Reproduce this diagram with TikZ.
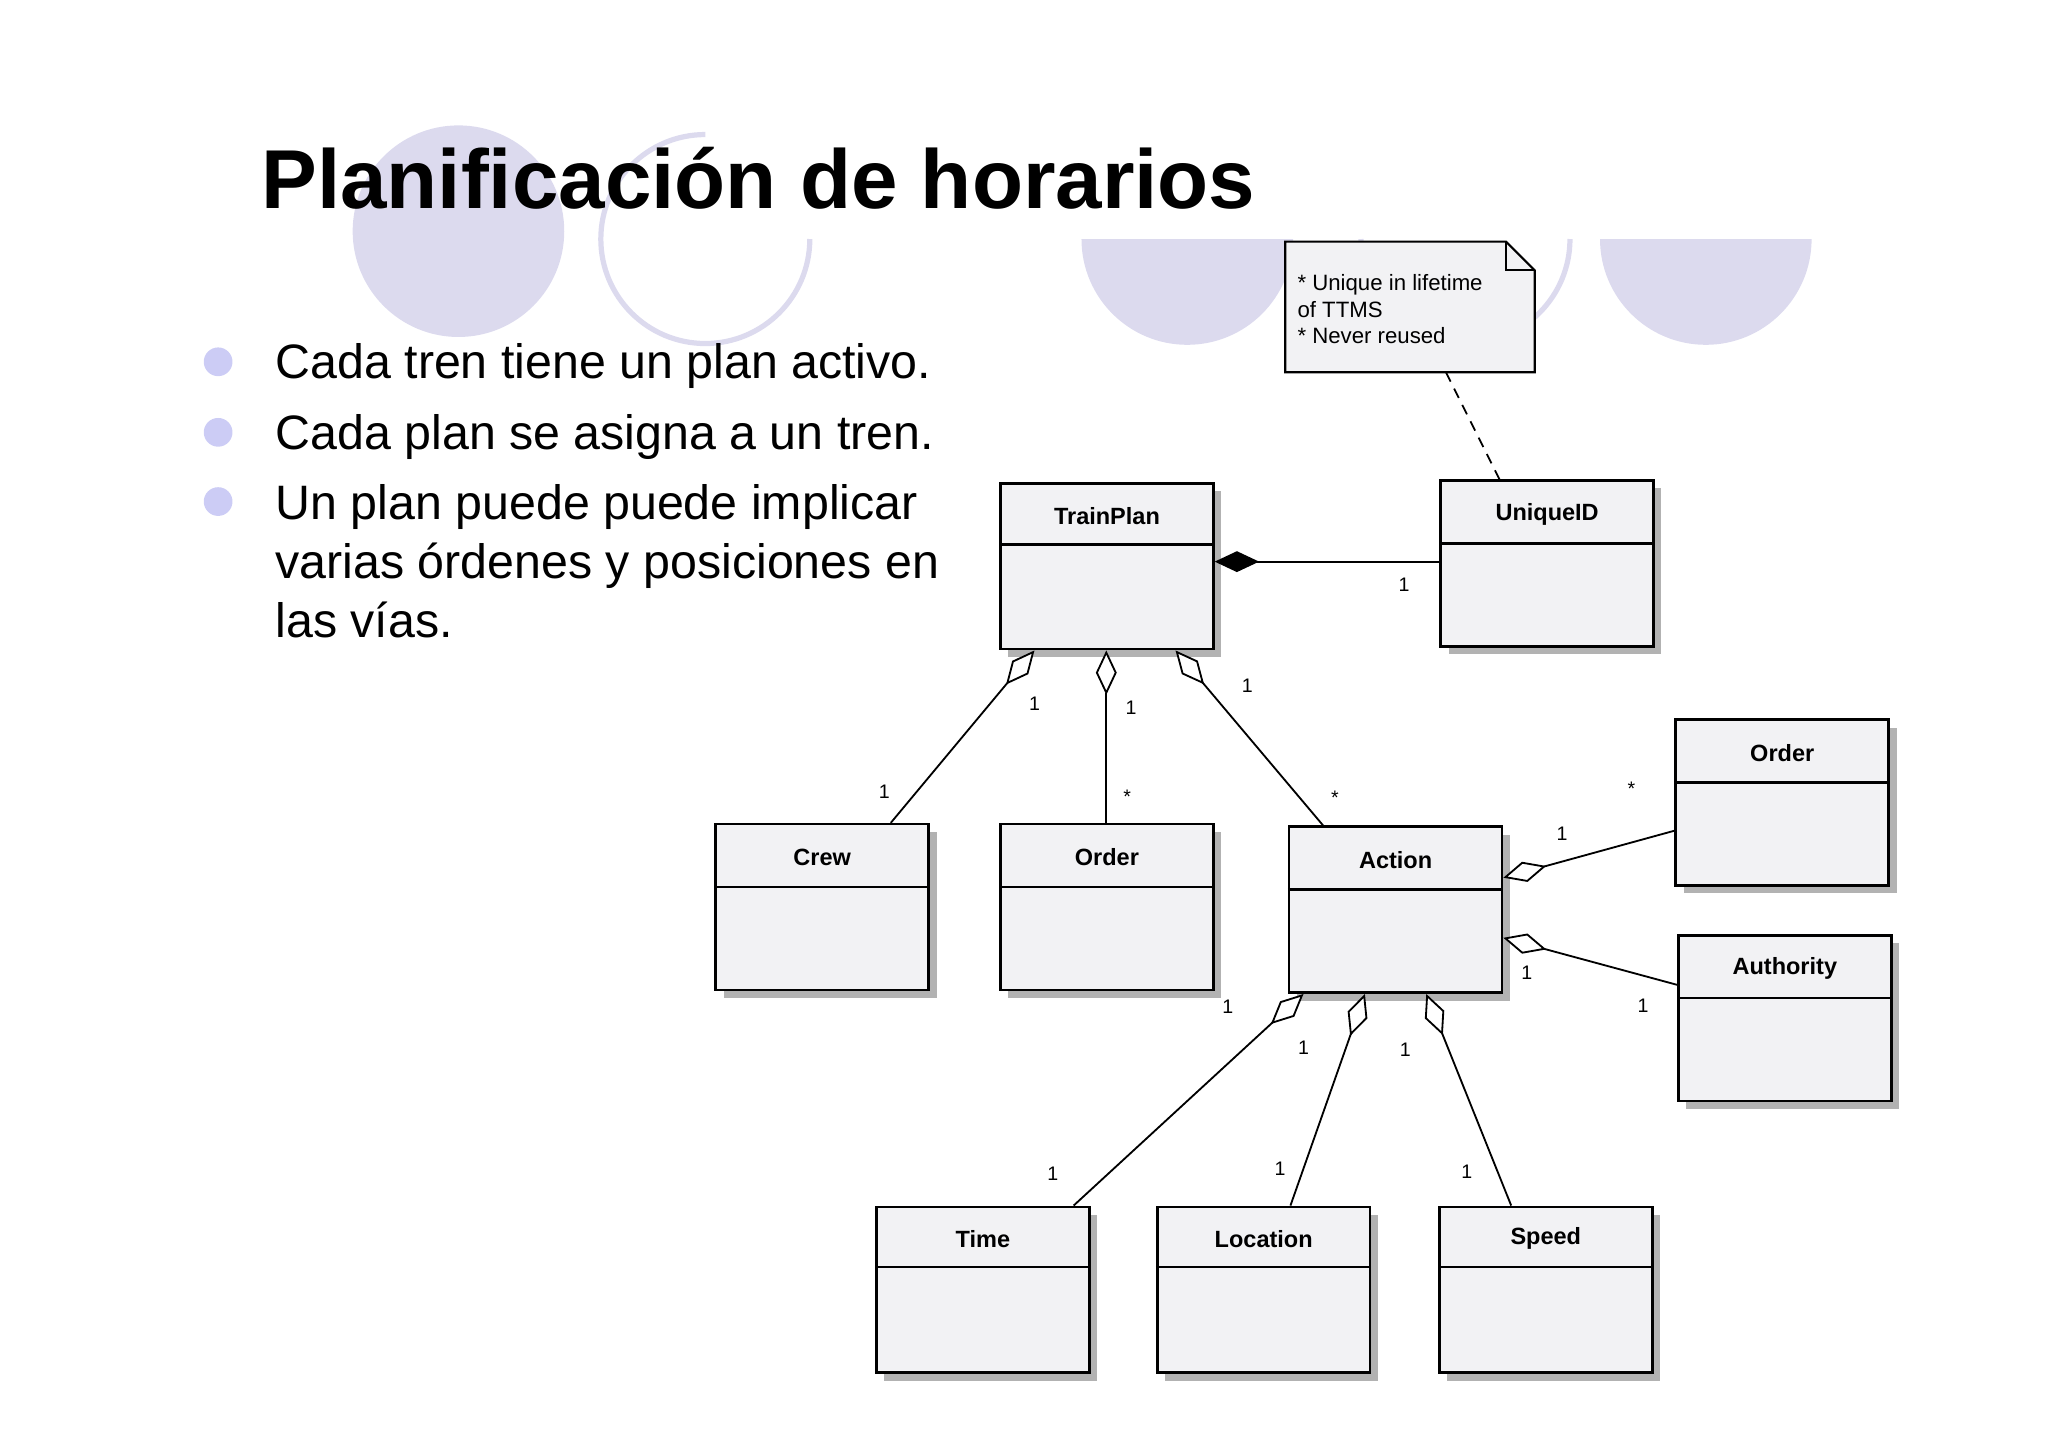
\documentclass[tikz,border=0pt]{standalone}
\usepackage{fontspec}
\setmainfont{Liberation Sans}
\usetikzlibrary{arrows.meta,calc,shadows}
\definecolor{lav}{HTML}{DCDAEE}
\definecolor{bul}{HTML}{CCCCF5}
\definecolor{boxf}{HTML}{F2F2F4}
\tikzset{
  umlbox/.style={draw, line width=1pt, fill=boxf, rectangle, anchor=north west, minimum width=81.5pt, minimum height=63.5pt, inner sep=0pt,
    drop shadow={shadow xshift=3pt, shadow yshift=-3pt, fill=black!30, opacity=1}},
  title/.style={font=\bfseries\fontsize{9}{10}\selectfont},
  mult/.style={font=\fontsize{7.5}{8}\selectfont},
  assoc/.style={line width=0.7pt},
  agg/.style={assoc, {Diamond[open, fill=white, length=17pt, width=8pt]}-},
  comp/.style={assoc, {Diamond[length=17pt, width=8pt]}-},
  bullettext/.style={anchor=base west, font=\fontsize{18.5}{20}\selectfont},
}
\begin{document}
\begin{tikzpicture}[x=0.5pt,y=-0.5pt]
\useasboundingbox (0,0) rectangle (1568,1108);
% decorations
\fill[lav] (351,177) circle (81);
\draw[lav, line width=2pt] (620,183) arc (0:270:80);
\fill[lav] (828,183) arc (180:0:81) -- cycle;
\draw[lav, line width=2pt] (1042,183) arc (180:0:80);
\fill[lav] (1225,183) arc (180:0:81) -- cycle;
\node[anchor=base west, font=\bfseries\fontsize{32}{34}\selectfont] (ttl) at (193,160) {Planificación de horarios};
% bullets
\foreach \y in {277,331,384} \fill[bul] (167,\y) circle (11);
\node[bullettext] (b1) at (204,290) {Cada tren tiene un plan activo.};
\node[bullettext] (b2) at (204,344) {Cada plan se asigna a un tren.};
\node[bullettext] (b3) at (204,398) {Un plan puede puede implicar};
\node[bullettext] (b4) at (204,443) {varias órdenes y posiciones en};
\node[bullettext] (b5) at (204,488) {las vías.};
% note
\draw[line width=0.8pt, fill=boxf] (984,185) -- (1153,185) -- (1175,207) -- (1175,285) -- (984,285) -- cycle;
\draw[line width=0.8pt] (1153,185) -- (1153,207) -- (1175,207);
\node[anchor=north west, align=left, font=\fontsize{8.5}{10}\selectfont, inner sep=0pt] (note) at (993,210) {* Unique in lifetime\\of TTMS\\* Never reused};
\coordinate (nb) at (1107,285);
% boxes
\foreach \n/\x/\y/\d/\t in {tp/765/369/48/TrainPlan, uid/1102/367/49/UniqueID, crew/547/630/49/Crew, ord/765/630/49/Order, act/986/632/49/Action, ord2/1282/550/49/Order, auth/1284/715/49/Authority, time/670/923/47/Time, loc/885/923/47/Location, spd/1101/923/47/Speed}{
  \node[umlbox] (\n) at (\x,\y) {};
  \draw[line width=1pt] (\n.north west) ++(0,\d) -- ++(163,0);
  \node[title] (\n-t) at ($(\n.north)+(0,0.5*\d+2)$) {\t};
}
% connectors
\draw[comp] (tp.east |- 0,430) -- (uid.west |- 0,430);
\node[mult] at (1075,448) {1};
\draw[assoc, dashed, dash pattern=on 4pt off 3pt] (nb) -- ($(uid.north west)+(46,0)$);
\draw[agg] ($(tp.south west)+(27,0)$) -- ($(crew.north west)+(135,0)$);
\node[mult] at (792,539) {1}; \node[mult] at (677,606) {1};
\draw[agg] ($(tp.south west)+(82,0)$) -- ($(ord.north west)+(82,0)$);
\node[mult] at (866,542) {1}; \node[mult] at (863,610) {*};
\draw[agg] ($(tp.south west)+(135,0)$) -- ($(act.north west)+(27,0)$);
\node[mult] at (955,525) {1}; \node[mult] at (1022,611) {*};
\draw[agg] ($(act.north east)+(0,40)$) -- ($(ord2.north west)+(0,86)$);
\node[mult] at (1196,638) {1}; \node[mult] at (1249,604) {*};
\draw[agg] ($(act.north east)+(0,86)$) -- ($(auth.north west)+(0,39)$);
\node[mult] at (1169,745) {1}; \node[mult] at (1258,770) {1};
\draw[agg] ($(act.south west)+(12,0)$) -- ($(time.north west)+(152,0)$);
\node[mult] at (940,771) {1}; \node[mult] at (806,899) {1};
\draw[agg] ($(act.south west)+(59,0)$) -- ($(loc.north west)+(103,0)$);
\node[mult] at (998,802) {1}; \node[mult] at (980,895) {1};
\draw[agg] ($(act.south west)+(106,0)$) -- ($(spd.north west)+(56,0)$);
\node[mult] at (1076,804) {1}; \node[mult] at (1123,897) {1};
\end{tikzpicture}
\end{document}
